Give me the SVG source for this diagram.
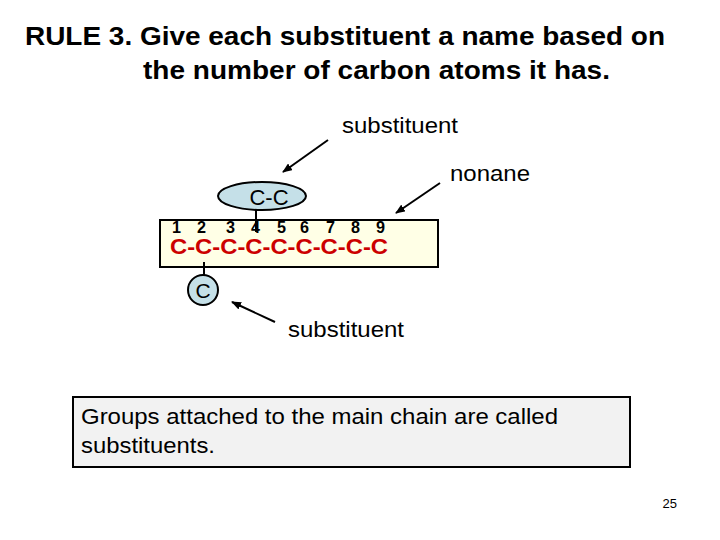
<svg xmlns="http://www.w3.org/2000/svg" width="720" height="540" viewBox="0 0 720 540">
<style>
text{font-family:"Liberation Sans",Arial,sans-serif}
.t{font-size:22px}
.n{font-size:16px;font-weight:bold}
.c{font-size:22px;font-weight:bold;fill:#cc0000}
.a{stroke:#000;stroke-width:2;fill:none;marker-end:url(#ar)}
</style>
<defs><marker id="ar" markerWidth="10" markerHeight="8" refX="9" refY="4" orient="auto" markerUnits="userSpaceOnUse"><path d="M0,0L10,4L0,8z" fill="#000"/></marker></defs>
<rect width="720" height="540" fill="#fff"/>
<text x="25" y="45" textLength="640" lengthAdjust="spacingAndGlyphs" style="font-size:26px;font-weight:bold">RULE 3. Give each substituent a name based on</text>
<text x="143" y="79" textLength="467" lengthAdjust="spacingAndGlyphs" style="font-size:26px;font-weight:bold">the number of carbon atoms it has.</text>
<g id="chain">
<rect x="160" y="220" width="278" height="47" fill="#ffffe6" stroke="#000" stroke-width="2"/>
<g class="n"><text x="172" y="233" textLength="9" lengthAdjust="spacingAndGlyphs">1</text><text x="197" y="233" textLength="9" lengthAdjust="spacingAndGlyphs">2</text><text x="226" y="233" textLength="9" lengthAdjust="spacingAndGlyphs">3</text><text x="251" y="233" textLength="9" lengthAdjust="spacingAndGlyphs">4</text><text x="277" y="233" textLength="9" lengthAdjust="spacingAndGlyphs">5</text><text x="300" y="233" textLength="9" lengthAdjust="spacingAndGlyphs">6</text><text x="326" y="233" textLength="9" lengthAdjust="spacingAndGlyphs">7</text><text x="351" y="233" textLength="9" lengthAdjust="spacingAndGlyphs">8</text><text x="376" y="233" textLength="9" lengthAdjust="spacingAndGlyphs">9</text></g>
<text x="170" y="254" textLength="218" lengthAdjust="spacingAndGlyphs" class="c">C-C-C-C-C-C-C-C-C</text>
</g>
<g id="ethyl">
<line x1="256" y1="209" x2="256" y2="232" stroke="#000" stroke-width="2"/>
<ellipse cx="262" cy="196" rx="44" ry="14" fill="#c5e0e8" stroke="#000" stroke-width="2"/>
<text x="269" y="205" text-anchor="middle" style="font-size:22px">C-C</text>
</g>
<g id="methyl">
<line x1="204" y1="262" x2="204" y2="277" stroke="#000" stroke-width="2"/>
<circle cx="203" cy="290" r="15" fill="#c5e0e8" stroke="#000" stroke-width="2"/>
<text x="203" y="298" text-anchor="middle" style="font-size:21px">C</text>
</g>
<g id="connectors">
<line class="a" x1="328" y1="140" x2="283" y2="172"/>
<line class="a" x1="440" y1="183" x2="396" y2="213"/>
<line class="a" x1="275" y1="322" x2="232" y2="302"/>
</g>
<text x="342" y="133" class="t" textLength="116" lengthAdjust="spacingAndGlyphs">substituent</text>
<text x="450" y="181" class="t" textLength="80" lengthAdjust="spacingAndGlyphs">nonane</text>
<text x="288" y="337" class="t" textLength="116" lengthAdjust="spacingAndGlyphs">substituent</text>
<g id="note">
<rect x="73" y="397" width="557" height="70" fill="#f2f2f2" stroke="#000" stroke-width="2"/>
<text x="81" y="424" class="t" textLength="477" lengthAdjust="spacingAndGlyphs">Groups attached to the main chain are called</text>
<text x="81" y="453" class="t" textLength="134" lengthAdjust="spacingAndGlyphs">substituents.</text>
</g>
<text x="677" y="508" text-anchor="end" style="font-size:13px">25</text>
</svg>
